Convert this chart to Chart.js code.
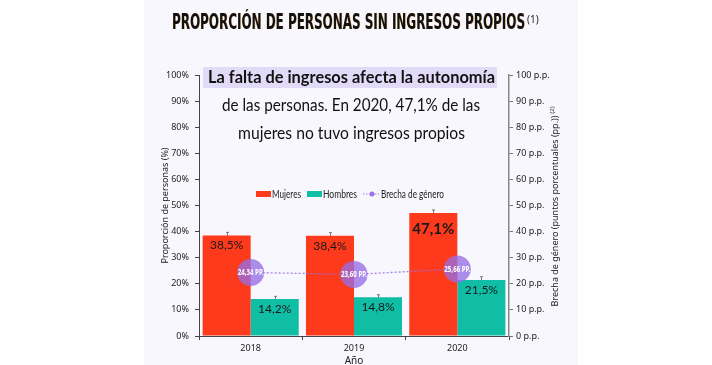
<!DOCTYPE html>
<html>
<head>
<meta charset="utf-8">
<script src="https://cdn.jsdelivr.net/npm/chart.js@4.4.1/dist/chart.umd.min.js"></script>
<style>
html,body{margin:0;padding:0;background:#fff;}
#wrap{width:712px;height:365px;position:relative;}
</style>
</head>
<body>
<div id="wrap"><canvas id="c" width="712" height="365"></canvas></div>
<script>
const years = ['2018', '2019', '2020'];
const mujeres = [38.5, 38.4, 47.1];
const hombres = [14.2, 14.8, 21.5];
const brecha = [24.34, 23.60, 25.66];
const errMujeres = [1.2, 1.2, 1.2];
const errHombres = [1.0, 1.0, 1.2];
const leftTicks = [0,10,20,30,40,50,60,70,80,90,100];
const titleText = 'PROPORCIÓN DE PERSONAS SIN INGRESOS PROPIOS';
const titleSup = '(1)';
const noteLines = ['La falta de ingresos afecta la autonomía', 'de las personas. En 2020, 47,1% de las', 'mujeres no tuvo ingresos propios'];
const legendLabels = ['Mujeres', 'Hombres', 'Brecha de género'];
const rightTitle = 'Brecha de género (puntos porcentuales (pp.))';

const RED = '#fd3a1b', TEAL = '#0fbea5', PURPLE = 'rgba(150,110,228,0.78)';
const fmt = v => v.toFixed(1).replace('.', ',') + '%';
const fmtPP = v => v.toFixed(2).replace('.', ',') + ' PP.';
const FONT = "'Noto Sans', 'DejaVu Sans', sans-serif";
const NFONT = "Lato, 'Noto Sans', sans-serif";

function fitText(ctx, text, x, y, width) {
  const w = ctx.measureText(text).width;
  ctx.save();
  ctx.translate(x, y);
  ctx.scale(width / w, 1);
  ctx.fillText(text, 0, 0);
  ctx.restore();
}

const custom = {
  id: 'custom',
  beforeDraw(chart) {
    const ctx = chart.ctx;
    ctx.save();
    ctx.fillStyle = '#ffffff';
    ctx.fillRect(0, 0, chart.width, chart.height);
    ctx.fillStyle = '#f8f7fd';
    ctx.fillRect(144, 0, 434, chart.height);
    ctx.restore();
  },
  beforeDatasetsDraw(chart) {
    const ctx = chart.ctx, y = chart.scales.y;
    ctx.save();
    ctx.strokeStyle = '#777';
    ctx.lineWidth = 1;
    [[0, errMujeres], [1, errHombres]].forEach(([di, errs]) => {
      chart.getDatasetMeta(di).data.forEach((bar, i) => {
        const v = chart.data.datasets[di].data[i];
        const y1 = y.getPixelForValue(v + errs[i]), y2 = y.getPixelForValue(v - errs[i]);
        const x = Math.round(bar.x) + 0.5;
        ctx.beginPath();
        ctx.moveTo(x, y1); ctx.lineTo(x, y2);
        ctx.moveTo(x - 1.5, y1); ctx.lineTo(x + 1.5, y1);
        ctx.stroke();
      });
    });
    ctx.restore();
  },
  afterDatasetsDraw(chart) {
    const ctx = chart.ctx;
    ctx.save();
    ctx.textAlign = 'center';
    ctx.textBaseline = 'middle';
    ctx.fillStyle = '#1a1a1a';
    chart.getDatasetMeta(0).data.forEach((bar, i) => {
      const big = i === 2;
      ctx.font = (big ? 'bold 15px ' : '12px ') + NFONT;
      ctx.fillText(fmt(mujeres[i]), bar.x, bar.y + (big ? 16 : 10));
    });
    ctx.font = '12px ' + NFONT;
    chart.getDatasetMeta(1).data.forEach((bar, i) => {
      ctx.fillText(fmt(hombres[i]), bar.x, bar.y + 10);
    });
    ctx.fillStyle = '#ffffff';
    ctx.textAlign = 'left';
    chart.getDatasetMeta(2).data.forEach((pt, i) => {
      ctx.font = 'bold 9px ' + FONT;
      fitText(ctx, fmtPP(brecha[i]), pt.x - 13, pt.y, 26);
    });
    ctx.restore();
  },
  afterDraw(chart) {
    const ctx = chart.ctx;
    ctx.save();
    // Title
    ctx.textBaseline = 'alphabetic';
    ctx.font = "bold 22px 'DejaVu Sans Condensed', 'DejaVu Sans', sans-serif";
    const tw = ctx.measureText(titleText).width;
    ctx.save();
    ctx.translate(172, 28.5);
    ctx.scale(353 / tw, 1);
    ctx.fillStyle = 'rgba(230,170,80,0.8)';
    ctx.fillText(titleText, 0.8, 0.8);
    ctx.fillStyle = '#111';
    ctx.fillText(titleText, 0, 0);
    ctx.restore();
    ctx.font = '10px ' + FONT;
    ctx.fillStyle = '#222';
    ctx.fillText(titleSup, 527, 23);

    // Note text
    ctx.textAlign = 'left';
    ctx.textBaseline = 'middle';
    ctx.font = 'bold 16.5px ' + NFONT;
    ctx.fillStyle = '#e2dbf7';
    ctx.fillRect(203, 67, 294, 21);
    ctx.fillStyle = '#111';
    fitText(ctx, noteLines[0], 208, 78, 287);
    ctx.font = '16.5px ' + NFONT;
    fitText(ctx, noteLines[1], 222, 106, 258);
    fitText(ctx, noteLines[2], 238, 134, 227);

    // Right axis title (reads bottom-to-top)
    ctx.save();
    ctx.translate(555, 207);
    ctx.rotate(-Math.PI / 2);
    ctx.font = '9px ' + FONT;
    ctx.textAlign = 'center';
    ctx.fillStyle = '#222';
    ctx.fillText(rightTitle, -4, 0);
    const rw = ctx.measureText(rightTitle).width;
    ctx.font = '6px ' + FONT;
    ctx.textAlign = 'left';
    ctx.fillText('(2)', -4 + rw / 2 + 2, -3);
    ctx.restore();

    // Legend
    ctx.textAlign = 'left';
    ctx.font = '11px ' + NFONT;
    ctx.fillStyle = RED;
    ctx.fillRect(256, 191, 15, 6);
    ctx.fillStyle = '#222';
    fitText(ctx, legendLabels[0], 272, 194, 29);
    ctx.fillStyle = TEAL;
    ctx.fillRect(307, 191, 15, 6);
    ctx.fillStyle = '#222';
    fitText(ctx, legendLabels[1], 323, 194, 34);
    ctx.strokeStyle = 'rgba(150,110,228,0.9)';
    ctx.setLineDash([1.5, 1.5]);
    ctx.lineWidth = 1.2;
    ctx.beginPath(); ctx.moveTo(363, 194); ctx.lineTo(379, 194); ctx.stroke();
    ctx.setLineDash([]);
    ctx.fillStyle = 'rgba(150,110,228,0.95)';
    ctx.beginPath(); ctx.arc(372, 194, 2.5, 0, Math.PI * 2); ctx.fill();
    ctx.fillStyle = '#222';
    fitText(ctx, legendLabels[2], 381, 194, 63);
    ctx.restore();
  }
};

new Chart(document.getElementById('c'), {
  data: {
    labels: years,
    datasets: [
      { type: 'bar', label: legendLabels[0], data: mujeres, backgroundColor: RED, yAxisID: 'y', order: 2,
        barPercentage: 1, categoryPercentage: 0.93 },
      { type: 'bar', label: legendLabels[1], data: hombres, backgroundColor: TEAL, yAxisID: 'y', order: 2,
        barPercentage: 1, categoryPercentage: 0.93 },
      { type: 'line', label: legendLabels[2], data: brecha, yAxisID: 'y2', order: 0,
        borderColor: 'rgba(150,110,228,0.85)', borderWidth: 1.3, borderDash: [2, 2],
        pointRadius: 13.5, pointBackgroundColor: PURPLE, pointBorderWidth: 0, pointBorderColor: 'transparent',
        tension: 0, fill: false }
    ]
  },
  options: {
    responsive: false,
    animation: false,
    devicePixelRatio: 1,
    layout: { padding: { left: 150, right: 145, top: 75, bottom: 0 } },
    plugins: { legend: { display: false }, tooltip: { enabled: false }, title: { display: false } },
    scales: {
      x: {
        offset: true,
        grid: { display: true, offset: true, drawOnChartArea: false, drawTicks: true, tickLength: 4, color: '#444' },
        border: { display: true, color: '#444', width: 1 },
        ticks: { font: { size: 9, family: FONT }, color: '#222', padding: 3 },
        title: { display: true, text: 'Año', font: { size: 10, family: FONT }, color: '#222', padding: { top: 0, bottom: -2 } },
        afterFit(s) { s.height = 29; }
      },
      y: {
        position: 'left', min: 0, max: 100,
        afterBuildTicks(s) { s.ticks = leftTicks.map(v => ({ value: v })); },
        grid: { display: true, drawOnChartArea: false, drawTicks: true, tickLength: 4, color: '#444' },
        border: { display: true, color: '#444', width: 1 },
        ticks: { font: { size: 9, family: FONT }, color: '#222', padding: 6, callback: v => v + '%' },
        title: { display: true, text: 'Proporción de personas (%)', font: { size: 9, family: FONT }, color: '#222', padding: { top: 10, bottom: 0 } },
        afterFit(s) { s.width = 49; }
      },
      y2: {
        position: 'right', min: 0, max: 100,
        afterBuildTicks(s) { s.ticks = leftTicks.map(v => ({ value: v })); },
        grid: { display: true, drawOnChartArea: false, drawTicks: true, tickLength: 4, color: '#777' },
        border: { display: true, color: '#888', width: 1.5 },
        ticks: { font: { size: 9, family: FONT }, color: '#222', padding: 3, callback: v => v + ' p.p.' },
        title: { display: false },
        afterFit(s) { s.width = 58; }
      }
    }
  },
  plugins: [custom]
});
</script>
</body>
</html>
